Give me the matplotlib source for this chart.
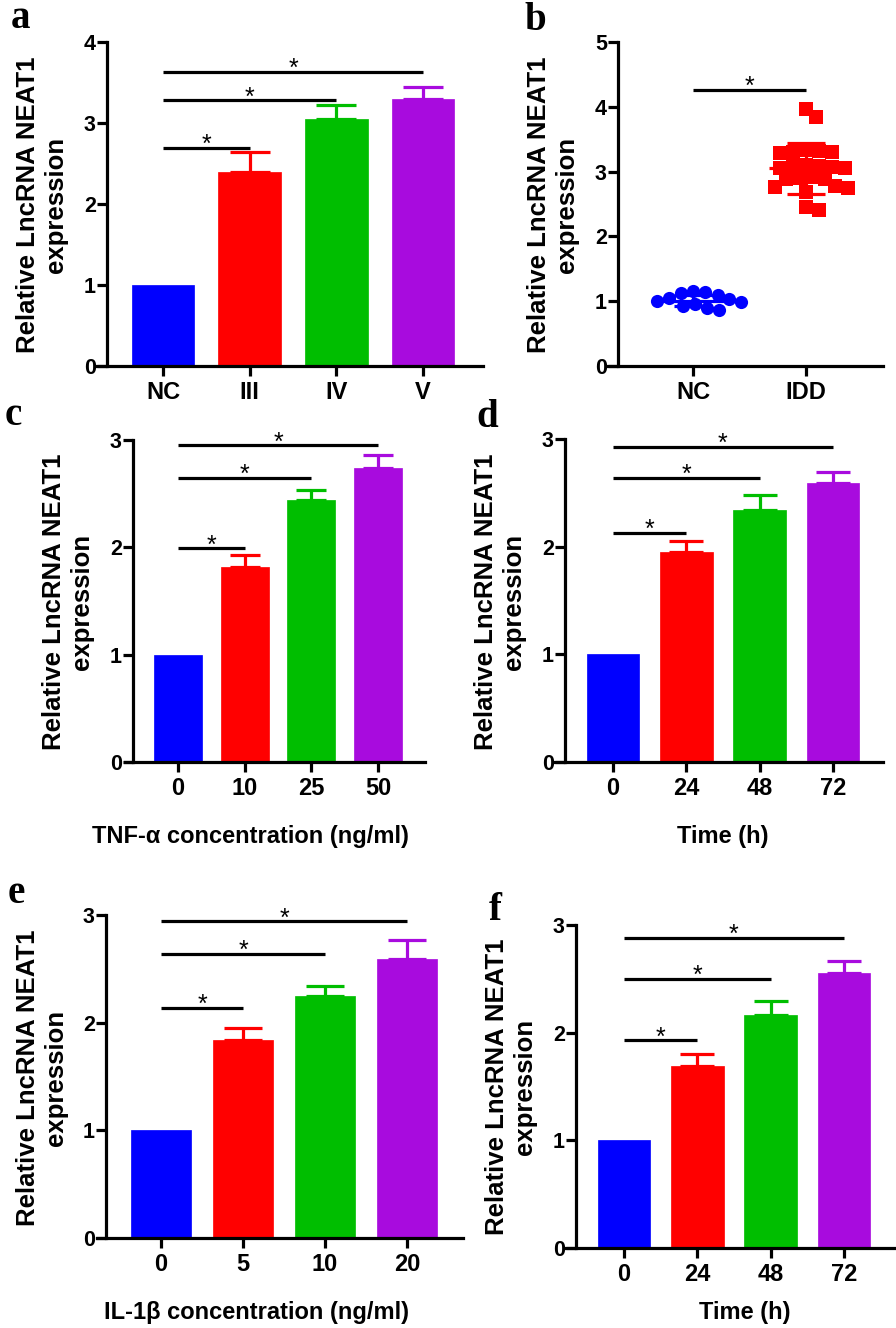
import matplotlib
matplotlib.use('Agg')
import matplotlib.pyplot as plt
import numpy as np

W, H = 896, 1328
SANS = ['Liberation Sans', 'DejaVu Sans']
SERIF = ['Liberation Serif', 'DejaVu Serif']
plt.rcParams['font.family'] = SANS
plt.rcParams['font.weight'] = 'bold'

BLUE = '#0000FF'
RED = '#FF0000'
GREEN = '#00BE00'
PURPLE = '#A80BDE'
BAR_COLORS = [BLUE, RED, GREEN, PURPLE]
YLABEL = 'Relative LncRNA NEAT1\nexpression'

# ---------------- data ----------------
a_groups = ['NC', 'III', 'IV', 'V']
a_means = [1.00, 2.40, 3.05, 3.30]
a_err = [0.0, 0.24, 0.17, 0.14]
a_sig = [2.69, 3.28, 3.63]

b_groups = ['NC', 'IDD']
b_nc_vals = [1.15, 1.14, 1.12, 1.10, 1.05, 1.03, 1.00, 0.98, 0.96, 0.93, 0.90, 0.87]
b_idd_vals = [3.97, 3.84, 3.33, 3.32, 3.31, 3.30, 3.29, 3.10, 3.09, 3.08, 3.07, 3.06, 3.05,
              2.92, 2.90, 2.89, 2.88, 2.78, 2.76, 2.75, 2.68, 2.45, 2.41]
b_means = [1.01, 3.05]
b_sd = [0.08, 0.39]
b_sig = [4.26]

c_groups = ['0', '10', '25', '50']
c_means = [1.00, 1.82, 2.44, 2.74]
c_err = [0.0, 0.11, 0.09, 0.12]
c_sig = [1.99, 2.65, 2.95]
c_xlabel = 'TNF-α concentration (ng/ml)'

d_groups = ['0', '24', '48', '72']
d_means = [1.00, 1.95, 2.34, 2.59]
d_err = [0.0, 0.10, 0.14, 0.10]
d_sig = [2.13, 2.64, 2.93]
d_xlabel = 'Time (h)'

e_groups = ['0', '5', '10', '20']
e_means = [1.00, 1.84, 2.25, 2.59]
e_err = [0.0, 0.11, 0.09, 0.18]
e_sig = [2.14, 2.64, 2.94]
e_xlabel = 'IL-1β concentration (ng/ml)'

f_groups = ['0', '24', '48', '72']
f_means = [1.00, 1.69, 2.16, 2.55]
f_err = [0.0, 0.11, 0.13, 0.12]
f_sig = [1.93, 2.50, 2.88]
f_xlabel = 'Time (h)'

fig = plt.figure(figsize=(W / 100, H / 100), dpi=100)

LW = 2.3


def make_axes(x0, yax, t0, sp, x1, top, bot, ymax):
    ax = fig.add_axes([x0 / W, 1 - bot / H, (x1 - x0) / W, (bot - top) / H])
    ax.set_xlim((x0 - t0) / sp, (x1 - t0) / sp)
    ax.set_ylim(0, ymax)
    for s in ['top', 'right']:
        ax.spines[s].set_visible(False)
    ax.spines['left'].set_position(('data', (yax - t0) / sp))
    for s in ['left', 'bottom']:
        ax.spines[s].set_linewidth(LW)
        ax.spines[s].set_capstyle('projecting')
    ax.set_yticks(range(0, ymax + 1))
    ax.tick_params(axis='both', direction='out', length=7, width=LW, color='black')
    ax.tick_params(axis='y', labelsize=15.5, pad=1)
    ax.tick_params(axis='x', labelsize=17, pad=4)
    for lab in ax.get_yticklabels() + ax.get_xticklabels():
        lab.set_fontweight('bold')
    return ax


def add_sig(ax, ys):
    for k, y in enumerate(ys, start=1):
        ax.plot([0, k], [y, y], color='black', lw=LW,
                solid_capstyle='butt', clip_on=False)
        ax.annotate('*', xy=(k / 2, y), xytext=(0, -3), textcoords='offset points',
                    ha='center', va='baseline', fontsize=18, fontweight='normal',
                    annotation_clip=False)


def bar_panel(ax, groups, means, errs, sig, sp):
    x = np.arange(len(groups))
    ax.bar(x, means, width=0.72, color=BAR_COLORS, edgecolor=BAR_COLORS, linewidth=0.5, zorder=2)
    cap = 0.23 * sp * 0.72
    for xi, m, e, c in zip(x, means, errs, BAR_COLORS):
        if e > 0:
            ax.errorbar([xi], [m], yerr=[[0], [e]], fmt='none', ecolor=c, elinewidth=LW,
                        capsize=cap, capthick=LW, zorder=1)
    ax.set_xticks(x)
    ax.set_xticklabels(groups)
    add_sig(ax, sig)


def ylabel(cx, cy):
    fig.text(cx / W, 1 - cy / H, YLABEL, rotation=90, ha='center', va='center',
             rotation_mode='anchor', multialignment='center', fontsize=18.5,
             linespacing=1.25, fontweight='bold')


def xlabel(cx, cy, txt):
    fig.text(cx / W, 1 - cy / H, txt, ha='center', va='center', fontsize=17, fontweight='bold')


def letter(x, y, ch):
    fig.text(x / W, 1 - y / H, ch, ha='left', va='baseline', fontsize=28,
             fontweight='bold', family=SERIF)


def swarm(vals, d_px, xs, ys):
    order = np.argsort(vals)[::-1]
    placed = []
    offs = np.zeros(len(vals))
    for i in order:
        v = vals[i]
        cands = [0.0]
        for (px, py) in placed:
            dy = (v - py) * ys
            if abs(dy) < d_px:
                dx = np.sqrt(d_px ** 2 - dy ** 2)
                cands += [px + dx, px - dx]
        cands.sort(key=abs)
        c = 0.0
        for c in cands:
            ok = True
            for (px, py) in placed:
                if (c - px) ** 2 + ((v - py) * ys) ** 2 < (d_px - 0.01) ** 2:
                    ok = False
                    break
            if ok:
                break
        placed.append((c, v))
        offs[i] = c / xs
    return offs


# ---------------- panel a ----------------
ax = make_axes(97, 107, 163, 86.7, 483, 42, 366, 4)
bar_panel(ax, a_groups, a_means, a_err, a_sig, 86.7)
ylabel(42, 205)
letter(11, 28, 'a')

# ---------------- panel b ----------------
sp_b = 113
ax = make_axes(608, 618, 693, sp_b, 883, 42, 366, 5)
ypx = 324 / 5
nc = np.array(b_nc_vals)
idd = np.array(b_idd_vals)
ax.scatter(0 + swarm(nc, 12.5, sp_b, ypx), nc, s=90, marker='o', color=BLUE, zorder=3, linewidths=0)
ax.scatter(1 + swarm(idd, 13, sp_b, ypx), idd, s=95, marker='s', color=RED, zorder=3, linewidths=0)
for xi, m, s, c in zip([0, 1], b_means, b_sd, [BLUE, RED]):
    ax.plot([xi - 0.33, xi + 0.33], [m, m], color=c, lw=LW, zorder=4, solid_capstyle='butt')
    ax.errorbar([xi], [m], yerr=[[s], [s]], fmt='none', ecolor=c, elinewidth=LW,
                capsize=0.17 * sp_b * 0.72, capthick=LW, zorder=4)
ax.set_xticks([0, 1])
ax.set_xticklabels(b_groups)
add_sig(ax, b_sig)
ylabel(553, 205)
letter(524, 30, 'b')

# ---------------- panel c ----------------
ax = make_axes(125, 133, 178, 66.7, 425, 440, 762, 3)
bar_panel(ax, c_groups, c_means, c_err, c_sig, 66.7)
ylabel(68, 602)
xlabel(250, 837, c_xlabel)
letter(5, 425, 'c')

# ---------------- panel d ----------------
ax = make_axes(555, 565, 613, 73.3, 883, 439, 762, 3)
bar_panel(ax, d_groups, d_means, d_err, d_sig, 73.3)
ylabel(500, 602)
xlabel(723, 836, d_xlabel)
letter(476, 427, 'd')

# ---------------- panel e ----------------
ax = make_axes(97, 106, 161, 82, 463, 915, 1238, 3)
bar_panel(ax, e_groups, e_means, e_err, e_sig, 82)
ylabel(42, 1078)
xlabel(256, 1312, e_xlabel)
letter(8, 903, 'e')

# ---------------- panel f ----------------
ax = make_axes(566, 576, 624, 73.3, 895, 925, 1248, 3)
bar_panel(ax, f_groups, f_means, f_err, f_sig, 73.3)
ylabel(511, 1087)
xlabel(745, 1312, f_xlabel)
letter(489, 920, 'f')

fig.savefig('out.png', dpi=100)
